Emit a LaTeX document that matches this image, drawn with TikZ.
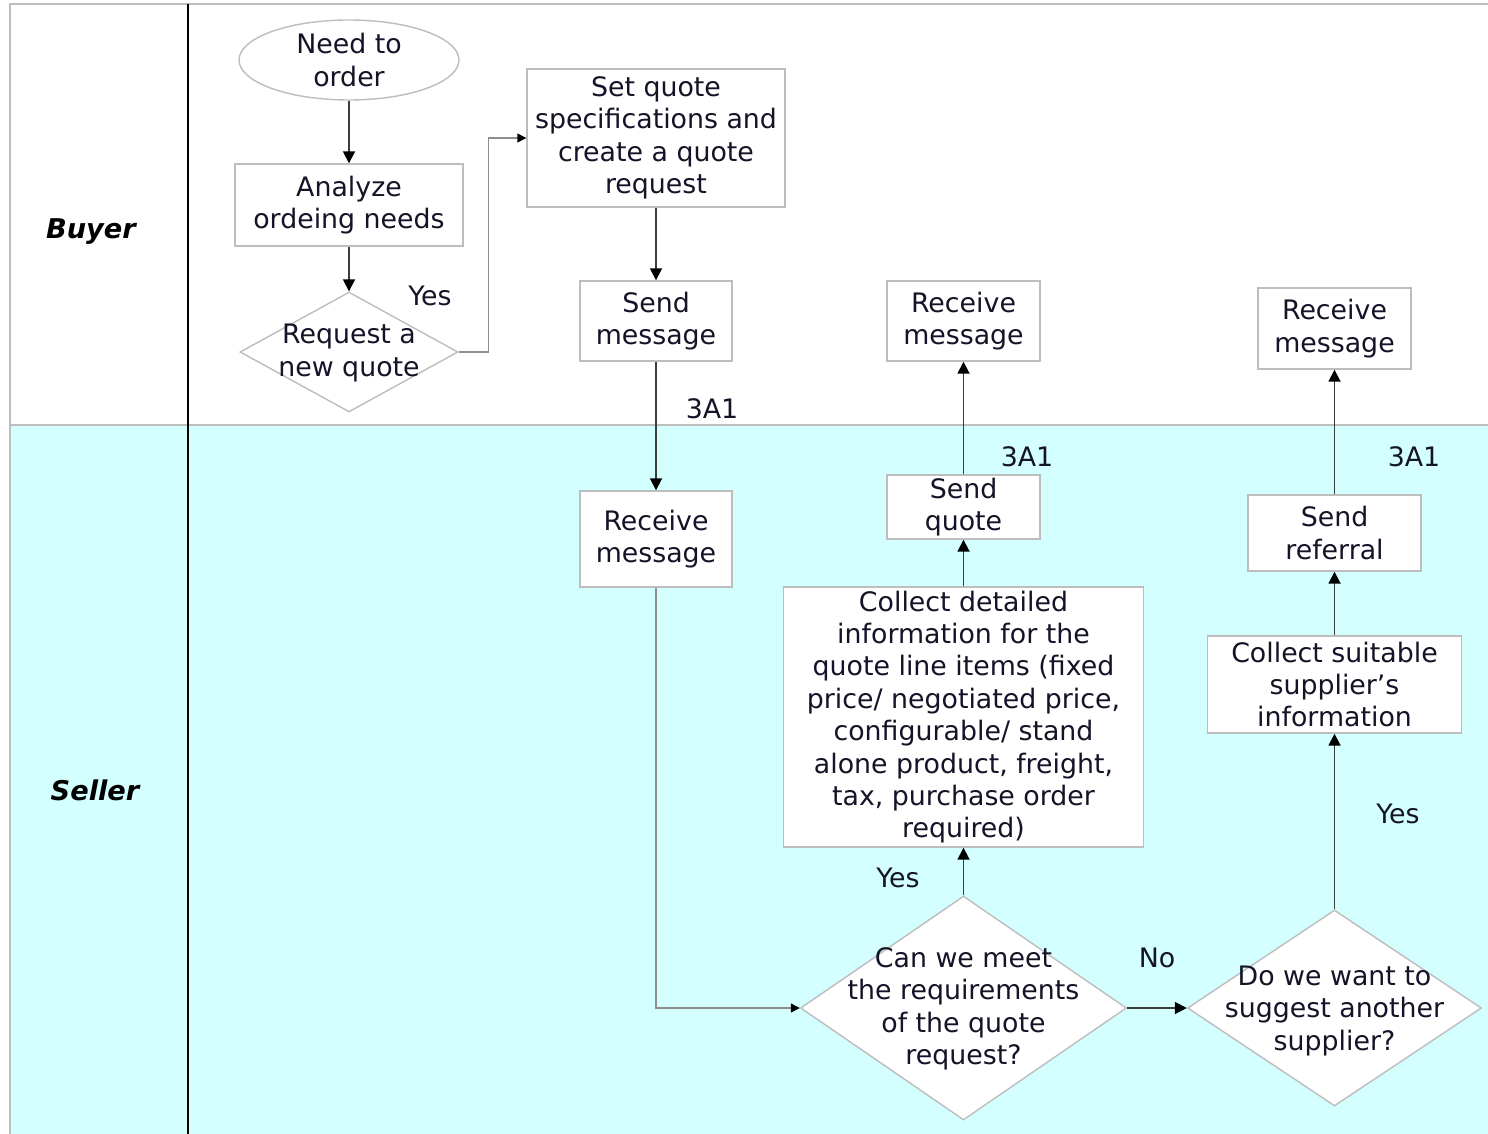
\documentclass[tikz,border=0pt]{standalone}
\usepackage{fontspec}
\setmainfont{DejaVu Sans}
\usetikzlibrary{shapes.geometric,arrows.meta}
\definecolor{lane}{HTML}{D4FFFF}
\definecolor{rule}{HTML}{BDBDBD}
\definecolor{ink}{HTML}{141428}
\definecolor{wire}{HTML}{3C3C3C}
\tikzset{
  txt/.style={text=ink, font=\fontsize{13.4}{16.2}\selectfont},
  box/.style={txt, draw=rule, line width=0.7pt, fill=white, align=center, inner sep=0pt},
  dec/.style={diamond, draw=rule, line width=0.7pt, fill=white, inner sep=0pt},
  dectext/.style={txt, align=center},
  flow/.style={draw=wire, line width=0.9pt, -{Triangle[length=6pt,width=6pt,color=black]}},
  side/.style={draw=rule!75!black, line width=0.7pt, -{Triangle[length=4.5pt,width=4.5pt,color=black]}},
  tag/.style={txt, inner sep=1pt},
  lanename/.style={text=black, font=\fontsize{13.6}{16}\selectfont\bfseries\itshape}
}
\begin{document}
\begin{tikzpicture}[x=0.5pt,y=-0.5pt]
\useasboundingbox (0,0) rectangle (1488,1134);

% swimlanes
\fill[lane] (10,425) rectangle (1488,1134);
\draw[rule, line width=0.8pt] (10,1134) -- (10,4) -- (1488,4);
\draw[rule, line width=0.8pt] (10,425) -- (1488,425);
\draw[black, line width=1pt] (188,4) -- (188,1134);
\node[lanename] (buyer) at (91,232) {Buyer};
\node[lanename] (seller) at (95,790) {Seller};

% buyer lane
\node[box, ellipse, minimum width=110pt, minimum height=40pt] (need) at (349,60) {Need to\\order};
\node[box, minimum width=114pt, minimum height=41pt] (analyze) at (349,205) {Analyze\\ordeing needs};
\node[dec, minimum width=109pt, minimum height=60pt] (request) at (349,352) {};
\node[dectext] (request-t) at (349,353) {Request a\\new quote};
\node[box, minimum width=129pt, minimum height=69pt] (setq) at (656,138) {Set quote\\specifications and\\create a quote\\request};
\node[box, minimum width=76pt, minimum height=40pt] (sendmsg) at (656,321) {Send\\message};
\node[box, minimum width=76.5pt, minimum height=40pt] (recvq) at (963.5,321) {Receive\\message};
\node[box, minimum width=76.5pt, minimum height=40.5pt] (recvr) at (1334.5,328.5) {Receive\\message};

% seller lane
\node[box, minimum width=76pt, minimum height=48pt] (recvs) at (656,539) {Receive\\message};
\node[box, minimum width=76.5pt, minimum height=32pt] (sendq) at (963.5,507) {Send\\quote};
\node[box, minimum width=180pt, minimum height=130pt] (collect) at (963.5,717) {Collect detailed\\information for the\\quote line items (fixed\\price/ negotiated price,\\configurable/ stand\\alone product, freight,\\tax, purchase order\\required)};
\node[box, minimum width=86.5pt, minimum height=38pt] (sendref) at (1334.5,533) {Send\\referral};
\node[box, minimum width=127pt, minimum height=48.5pt] (suit) at (1334.5,684.5) {Collect suitable\\supplier’s\\information};
\node[dec, minimum width=163pt, minimum height=112pt] (meet) at (963.5,1008) {};
\node[dectext] (meet-t) at (963.5,1009) {Can we meet\\the requirements\\of the quote\\request?};
\node[dec, minimum width=147pt, minimum height=98pt] (want) at (1334.5,1008) {};
\node[dectext] (want-t) at (1334.5,1011) {Do we want to\\suggest another\\supplier?};

% connectors
\draw[flow] (need) -- (analyze);
\draw[flow] (analyze) -- (request);
\draw[side] (request.east) -- ++(30,0) |- (setq.west);
\draw[flow] (setq) -- (sendmsg);
\draw[flow] (sendmsg) -- (recvs);
\draw[side] (recvs.south) |- (meet.west);
\draw[flow] (meet.north) -- (collect.south);
\draw[flow] (collect) -- (sendq);
\draw[flow] (sendq) -- (recvq);
\draw[flow] (meet.east) -- (want.west);
\draw[flow] (want.north) -- (suit.south);
\draw[flow] (suit) -- (sendref);
\draw[flow] (sendref) -- (recvr);

% connector labels
\node[tag] (l-yes1) at (430,296) {Yes};
\node[tag, fill=white, minimum width=40pt] (l-3a1a) at (712,409) {3A1};
\node[tag] (l-3a1b) at (1027,457) {3A1};
\node[tag] (l-3a1c) at (1414,457) {3A1};
\node[tag] (l-yes2) at (898,878) {Yes};
\node[tag] (l-no) at (1157,958) {No};
\node[tag] (l-yes3) at (1398,814) {Yes};
\end{tikzpicture}
\end{document}
